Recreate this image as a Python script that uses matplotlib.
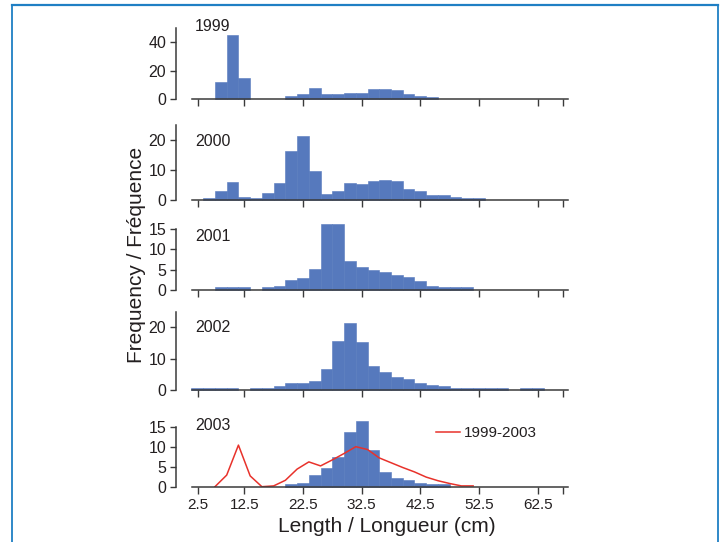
import matplotlib
matplotlib.use("Agg")
import matplotlib.pyplot as plt
from matplotlib.lines import Line2D

plt.rcParams['font.family'] = ['Liberation Sans', 'DejaVu Sans']

# length classes (2 cm bins, centre in cm)
bin_centres = [4.5, 6.5, 8.5, 10.5, 12.5, 14.5, 16.5, 18.5, 20.5, 22.5,
               24.5, 26.5, 28.5, 30.5, 32.5, 34.5, 36.5, 38.5, 40.5, 42.5,
               44.5, 46.5, 48.5, 50.5, 52.5, 54.5, 56.5, 58.5, 60.5, 62.5]

freq_1999 = [0, 0, 12, 45, 15, 0, 0, 0, 2.4, 3.6,
             7.8, 3.4, 3.4, 4.5, 4.5, 7.5, 7.5, 6.3, 3.4, 2.2,
             1.3, 0, 0, 0, 0, 0, 0, 0, 0, 0]
freq_2000 = [0, 0.65, 3.2, 6.2, 1.2, 0.6, 2.3, 5.8, 16.4, 21.3,
             9.8, 2.2, 3.2, 5.8, 5.3, 6.3, 6.9, 6.3, 3.7, 3.2,
             1.75, 1.75, 1.2, 0.65, 0.65, 0, 0, 0, 0, 0]
freq_2001 = [0, 0, 0.65, 0.65, 0.65, 0, 0.65, 1.1, 2.5, 2.9,
             5.2, 16.2, 16.2, 7.1, 5.6, 4.8, 4.4, 3.7, 3.3, 2.2,
             1.05, 0.65, 0.65, 0.65, 0, 0, 0, 0, 0, 0]
freq_2002 = [0.55, 0.55, 0.55, 0.55, 0, 0.6, 0.6, 1.2, 2.2, 2.2,
             2.8, 6.6, 15.5, 21.4, 15.4, 7.6, 5.7, 4.1, 3.6, 2.2,
             1.6, 1.2, 0.6, 0.6, 0.6, 0.6, 0.6, 0, 0.55, 0.55]
freq_2003 = [0, 0, 0, 0, 0, 0, 0, 0, 0.65, 1.0,
             2.9, 4.8, 7.5, 13.75, 16.4, 9.2, 3.75, 2.2, 1.8, 1.0,
             0.65, 0.65, 0, 0, 0, 0, 0, 0, 0, 0]

# mean over 1999-2003
mean_x = [7.5, 9.5, 11.5, 13.5, 15.5, 17.5, 19.5, 21.5, 23.5, 25.5, 27.5, 29.5,
          31.5, 33.5, 35.5, 37.5, 39.5, 41.5, 43.5, 45.5, 47.5, 49.5, 51.5]
mean_y = [0, 2.9, 10.4, 2.7, 0, 0.2, 1.6, 4.4, 6.2, 5.2, 6.7, 8.3,
          10.0, 9.3, 7.2, 6.0, 4.8, 3.7, 2.4, 1.5, 0.8, 0.2, 0.2]

years = ['1999', '2000', '2001', '2002', '2003']
series = [freq_1999, freq_2000, freq_2001, freq_2002, freq_2003]
y_max = [50, 25, 15, 25, 15]
y_ticks = [[0, 20, 40], [0, 10, 20], [0, 5, 10, 15], [0, 10, 20], [0, 5, 10, 15]]

x_ticks = [4.66, 12.5, 22.5, 32.5, 42.5, 52.5, 62.5, 66.8]
x_ticklabels = ['2.5', '12.5', '22.5', '32.5', '42.5', '52.5', '62.5', '']

W, H = 724, 542
# panel placement in pixels: (top of y range, zero line)
panel_px = [(28, 99.3), (125, 200.3), (229, 290), (311.7, 390), (426.7, 486.7)]
year_label_y = [26.5, 142, 236.7, 327, 426]

BAR = '#5679bd'
INK = '#231f20'
AXIS = '#3a3a3a'
FRAME = '#1f7fc4'

fig = plt.figure(figsize=(W / 100, H / 100), dpi=100)

ax_left, ax_right = 176, 568
for i, (yr, vals) in enumerate(zip(years, series)):
    top, zero = panel_px[i]
    ax = fig.add_axes([ax_left / W, 1 - zero / H, (ax_right - ax_left) / W, (zero - top) / H])
    xs = [c for c, v in zip(bin_centres, vals) if v > 0]
    hs = [v for v in vals if v > 0]
    ax.bar(xs, hs, width=2.0, color=BAR, edgecolor=BAR, linewidth=0.4,
           clip_on=False, zorder=1)
    ax.set_xlim(0.86, 67.67)
    ax.set_ylim(0, y_max[i])
    ax.set_yticks(y_ticks[i])
    ax.set_xticks(x_ticks)
    if i == len(years) - 1:
        ax.set_xticklabels(x_ticklabels)
    else:
        ax.set_xticklabels([])
    for s in ('top', 'right'):
        ax.spines[s].set_visible(False)
    ax.spines['left'].set_bounds(0, y_max[i])
    ax.spines['bottom'].set_bounds(3.53, 67.67)
    for s in ('left', 'bottom'):
        ax.spines[s].set_color(AXIS)
        ax.spines[s].set_linewidth(1.1)
    ax.tick_params(axis='x', direction='out', length=5, width=1.0, color=AXIS,
                   labelsize=11, labelcolor=INK, pad=3)
    ax.tick_params(axis='y', direction='out', length=4, width=1.0, color=AXIS,
                   labelsize=11.5, labelcolor=INK, pad=3)
    ax.patch.set_visible(False)
    fig.text(195 / W, 1 - year_label_y[i] / H, yr, fontsize=11.5, color=INK,
             ha='left', va='center')

    if i == len(years) - 1:
        ax.plot(mean_x, mean_y, color='#e8322b', linewidth=1.1, zorder=2,
                label='1999-2003')
        ax.legend(loc='center left', bbox_to_anchor=((436 - ax_left) / (ax_right - ax_left),
                                                     (zero - 433) / (zero - top)),
                  frameon=False, fontsize=11, handlelength=1.6, handletextpad=0.25,
                  borderpad=0, borderaxespad=0, labelcolor=INK)

fig.text(387 / W, 1 - 527 / H, 'Length / Longueur (cm)', fontsize=15, color=INK,
         ha='center', va='center')
fig.text(137 / W, 1 - 255 / H, 'Frequency / Fréquence', fontsize=15, color=INK,
         ha='center', va='center', rotation=90)

# border around the figure
fig.add_artist(Line2D([12 / W, 718 / W], [1 - 5 / H, 1 - 5 / H], color=FRAME, linewidth=1.6))
fig.add_artist(Line2D([12 / W, 12 / W], [1 - 5 / H, 0], color=FRAME, linewidth=1.3))
fig.add_artist(Line2D([718 / W, 718 / W], [1 - 5 / H, 0], color=FRAME, linewidth=1.3))

fig.savefig('out.png', dpi=100)
